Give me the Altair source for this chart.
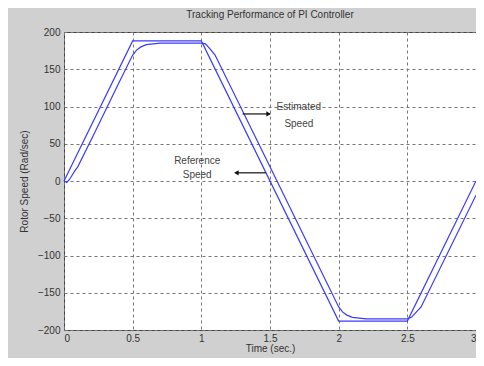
import altair as alt
import pandas as pd

# Reference speed (trapezoid)
ref_t = [0.0, 0.5, 1.0, 2.0, 2.5, 3.0]
ref_v = [0, 188, 188, -188, -188, 0]

# Estimated speed (lagged, rounded corners)
est_t = [0.0, 0.02, 0.04, 0.06, 0.08, 0.1, 0.2, 0.3, 0.4, 0.5, 0.53, 0.56, 0.6, 0.65, 0.7,
         1.0, 1.03, 1.06, 1.1, 1.5, 2.0, 2.03, 2.06, 2.1, 2.15, 2.2, 2.5, 2.53, 2.56, 2.6, 3.0]
est_v = [0, -2, 2, 8, 14, 19, 56, 94, 132, 169, 176, 180, 183, 184, 185,
         185, 184, 178, 169, 19, -169, -176, -180, -183, -184, -185, -185, -183, -177, -169, -19]

x_ticks = [0, 0.5, 1, 1.5, 2, 2.5, 3]
y_ticks = [-200, -150, -100, -50, 0, 50, 100, 150, 200]

# annotations
ann_text = ["Estimated", "Speed", "Reference", "Speed"]
ann_x = [1.71, 1.71, 0.97, 0.97]
ann_y = [100, 77, 27, 8]

arrow_x = [1.30, 1.25]
arrow_x2 = [1.50, 1.47]
arrow_y = [90, 11]
head_x = [1.49, 1.255]
head_shape = ["triangle-right", "triangle-left"]

ref_df = pd.DataFrame({"t": ref_t, "v": ref_v, "s": "Reference"})
est_df = pd.DataFrame({"t": est_t, "v": est_v, "s": "Estimated"})
lines_df = pd.concat([ref_df, est_df])

ann_df = pd.DataFrame({"t": ann_x, "v": ann_y, "text": ann_text})
arr_df = pd.DataFrame({"t": arrow_x, "t2": arrow_x2, "v": arrow_y})
head_df = pd.DataFrame({"t": head_x, "v": arrow_y, "shape": head_shape})

X = alt.X("t:Q", scale=alt.Scale(domain=[0, 3], nice=False, zero=False),
          axis=alt.Axis(values=x_ticks, title="Time (sec.)",
                        labelExpr="datum.value == 0 ? '0' : format(datum.value, '~g')"))
Y = alt.Y("v:Q", scale=alt.Scale(domain=[-200, 200], nice=False, zero=False),
          axis=alt.Axis(values=y_ticks, title="Rotor Speed (Rad/sec)",
                        labelExpr="format(datum.value, 'd')"))

lines = alt.Chart(lines_df).mark_line(strokeWidth=1.2, color="#3a3aff").encode(
    x=X, y=Y, detail="s:N", order="t:Q",
)

texts = alt.Chart(ann_df).mark_text(fontSize=10, color="#444", font="Liberation Sans").encode(
    x=X, y=Y, text="text:N"
)

arrows = alt.Chart(arr_df).mark_rule(color="#111", strokeWidth=1.2).encode(
    x=X, x2="t2:Q", y=Y
)

heads = alt.Chart(head_df).mark_point(filled=True, color="#111", size=28, opacity=1).encode(
    x=X, y=Y, shape=alt.Shape("shape:N", scale=None)
)

chart = alt.layer(lines, arrows, heads, texts).properties(
    width=412, height=298,
    title=alt.TitleParams("Tracking Performance of PI Controller", fontSize=10,
                          fontWeight="normal", color="#333", font="Liberation Sans", offset=7),
    autosize=alt.AutoSizeParams(type="none"),
    padding={"left": 56, "top": 24, "right": 0, "bottom": 28},
    background="#d0d0d0",
).configure_view(
    fill="white", stroke="#444", strokeWidth=1
).configure_axis(
    grid=True, gridDash=[3, 3], gridColor="#777", gridWidth=1,
    domain=False, ticks=False, labelFontSize=10, labelColor="#333",
    labelFont="Liberation Sans", titleFont="Liberation Sans", titleFontSize=10,
    titleFontWeight="normal", titleColor="#333", labelPadding=4, labelOverlap=False
).configure_axisY(titlePadding=8).configure_axisX(titlePadding=0, labelPadding=3)

chart.save("out.html", embed_options={"renderer": "svg", "actions": False})
